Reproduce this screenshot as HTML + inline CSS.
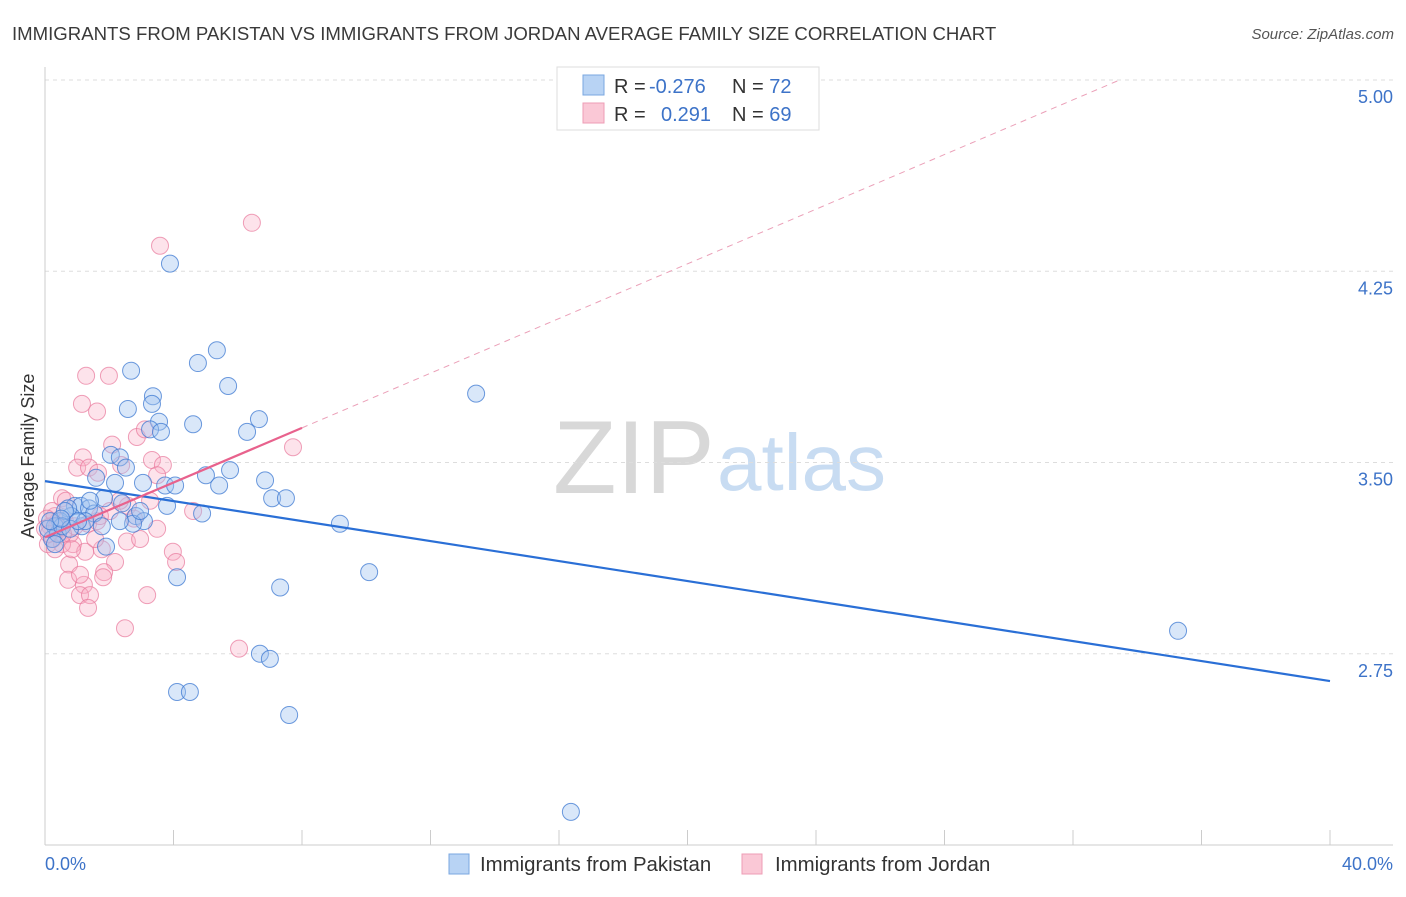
<!DOCTYPE html>
<html><head><meta charset="utf-8"><style>
body{margin:0;background:#fff;font-family:"Liberation Sans",sans-serif;}
svg text{font-family:"Liberation Sans",sans-serif;}
</style></head><body>
<svg id="chart" width="1406" height="892" xmlns="http://www.w3.org/2000/svg">
<text x="12" y="40" font-size="18.6" fill="#3a3a3a">IMMIGRANTS FROM PAKISTAN VS IMMIGRANTS FROM JORDAN AVERAGE FAMILY SIZE CORRELATION CHART</text>
<text x="1394" y="39" font-size="15" fill="#555" font-style="italic" text-anchor="end">Source: ZipAtlas.com</text>
<g>
<text x="553" y="493" font-size="104" fill="#d8d8d8" font-family="Liberation Serif, serif">ZIP</text>
<text x="717" y="490" font-size="80" fill="#c8dcf2">atlas</text>
</g>
<g id="grid"></g>
<g id="axes"></g>
<g id="pts"></g>
<g id="trends"></g>
<text transform="translate(34,456) rotate(-90)" font-size="18" fill="#333" text-anchor="middle">Average Family Size</text>
<text x="45" y="870" font-size="18" fill="#3d73c8">0.0%</text>
<text x="1393" y="870" font-size="18" fill="#3d73c8" text-anchor="end">40.0%</text>
<g>
<rect x="557" y="67" width="262" height="63" fill="#fff" stroke="#ddd"/>
<rect x="583" y="75" width="21" height="20" fill="#b8d3f4" stroke="#7aa7e0"/>
<rect x="583" y="103" width="21" height="20" fill="#fac8d6" stroke="#ee9db5"/>
<text x="614" y="93" font-size="20" fill="#333">R = <tspan x="649" fill="#3d73c8">-0.276</tspan><tspan x="732">N = </tspan><tspan fill="#3d73c8">72</tspan></text>
<text x="614" y="121" font-size="20" fill="#333">R = <tspan x="661" fill="#3d73c8">0.291</tspan><tspan x="732">N = </tspan><tspan fill="#3d73c8">69</tspan></text>
</g>
<g>
<rect x="449" y="854" width="20" height="20" fill="#b8d3f4" stroke="#7aa7e0"/>
<text x="480" y="871" font-size="20.4" fill="#333">Immigrants from Pakistan</text>
</g>
<g>
<rect x="742" y="854" width="20" height="20" fill="#fac8d6" stroke="#ee9db5"/>
<text x="775" y="871" font-size="20.4" fill="#333">Immigrants from Jordan</text>
</g>
</svg>
<script>
const yTicks=[5.00,4.25,3.50,2.75];
const xTickVals=[0,4,8,12,16,20,24,28,32,36,40];
const pakX=[3.89,2.68,4.76,5.35,5.70,3.36,2.58,3.33,3.55,4.61,6.66,6.29,3.27,3.61,2.05,2.33,2.52,5.01,6.85,1.59,2.18,3.05,5.42,3.74,7.07,7.50,1.84,0.93,1.12,1.37,2.40,3.80,4.89,0.81,1.53,2.83,3.08,9.18,1.15,1.77,2.74,1.90,10.09,4.11,7.32,6.69,7.00,4.11,4.51,7.60,16.37,13.42,35.27,0.72,0.47,0.31,0.22,0.40,0.62,0.09,0.53,1.25,2.33,4.05,5.76,0.16,0.78,1.03,0.31,1.40,2.96,0.5];
const pakY=[4.28,3.86,3.89,3.94,3.80,3.76,3.71,3.73,3.66,3.65,3.67,3.62,3.63,3.62,3.53,3.52,3.48,3.45,3.43,3.44,3.42,3.42,3.41,3.41,3.36,3.36,3.36,3.33,3.33,3.32,3.34,3.33,3.30,3.29,3.30,3.29,3.27,3.26,3.25,3.25,3.26,3.17,3.07,3.05,3.01,2.75,2.73,2.60,2.60,2.51,2.13,3.77,2.84,3.32,3.27,3.25,3.20,3.22,3.31,3.24,3.25,3.27,3.27,3.41,3.47,3.27,3.24,3.27,3.18,3.35,3.31,3.28];
const jorX=[3.58,6.44,1.28,1.99,1.15,1.62,2.09,2.86,3.11,1.18,1.00,3.33,3.67,1.37,1.65,2.37,3.49,7.72,0.53,2.58,2.02,2.77,4.61,1.34,3.49,1.62,3.98,4.08,2.55,0.87,1.25,1.77,0.75,2.18,1.84,1.81,0.72,1.21,1.09,1.40,3.18,1.34,2.49,6.04,1.09,0.31,0.16,0.47,0.25,0.40,0.09,0.62,0.78,0.22,0.53,0.93,0.06,0.31,0.65,1.71,1.56,3.27,2.96,2.33,0.0,0.37,0.56,0.12,0.84];
const jorY=[4.35,4.44,3.84,3.84,3.73,3.70,3.57,3.60,3.63,3.52,3.48,3.51,3.49,3.48,3.46,3.49,3.45,3.56,3.36,3.33,3.31,3.28,3.31,3.26,3.24,3.27,3.15,3.11,3.19,3.18,3.15,3.16,3.10,3.11,3.07,3.05,3.04,3.02,2.98,2.98,2.98,2.93,2.85,2.77,3.06,3.29,3.25,3.24,3.20,3.27,3.18,3.27,3.22,3.31,3.18,3.25,3.28,3.16,3.35,3.29,3.20,3.35,3.20,3.35,3.24,3.25,3.22,3.22,3.16];
const pakTrend=[3.427,2.643];
const jorTrend=[3.207,0.0536];
const X=v=>45+v*32.125, Y=v=>80+(5-v)*255;
const NS='http://www.w3.org/2000/svg';
function mk(tag,attrs,parent){const e=document.createElementNS(NS,tag);for(const k in attrs)e.setAttribute(k,attrs[k]);document.getElementById(parent).appendChild(e);return e;}
yTicks.forEach(t=>{
 const l=mk('line',{x1:45,x2:1393,y1:Y(t),y2:Y(t),stroke:'#ddd','stroke-dasharray':'4,4'},'grid');
 
 
 const tx=mk('text',{x:1393,y:Y(t)+23,'font-size':18,fill:'#3d73c8','text-anchor':'end'},'grid');
 tx.textContent=t.toFixed(2);
 
 
});
let ax=mk('line',{x1:45,x2:45,y1:67,y2:845,stroke:'#ccc'},'axes');


ax=mk('line',{x1:45,x2:1393,y1:845,y2:845,stroke:'#ccc'},'axes');


xTickVals.forEach(v=>{
 const t=mk('line',{x1:X(v),x2:X(v),y1:830,y2:845,stroke:'#ccc'},'axes');
 
 
});
jorX.forEach((x,i)=>{
 const c=mk('circle',{cx:X(x),cy:Y(jorY[i]),r:8.5,fill:'rgba(248,175,197,0.35)',stroke:'rgba(232,120,155,0.7)','stroke-width':1},'pts');
 
 
});
pakX.forEach((x,i)=>{
 const c=mk('circle',{cx:X(x),cy:Y(pakY[i]),r:8.5,fill:'rgba(160,195,240,0.4)',stroke:'rgba(60,120,210,0.75)','stroke-width':1},'pts');
 
 
});
let tl=mk('line',{x1:X(0),y1:Y(pakTrend[0]),x2:X(40),y2:Y(pakTrend[1]),stroke:'#2a6fd6','stroke-width':2.2},'trends');


const jy=x=>jorTrend[0]+jorTrend[1]*x;
const xEnd=(5-jorTrend[0])/jorTrend[1];
tl=mk('line',{x1:X(8),y1:Y(jy(8)),x2:X(xEnd),y2:Y(jy(xEnd)),stroke:'#eba0b8','stroke-width':1,'stroke-dasharray':'6,5'},'trends');


tl=mk('line',{x1:X(0),y1:Y(jy(0)),x2:X(8),y2:Y(jy(8)),stroke:'#e8628d','stroke-width':2.2},'trends');


</script>
</body></html>
